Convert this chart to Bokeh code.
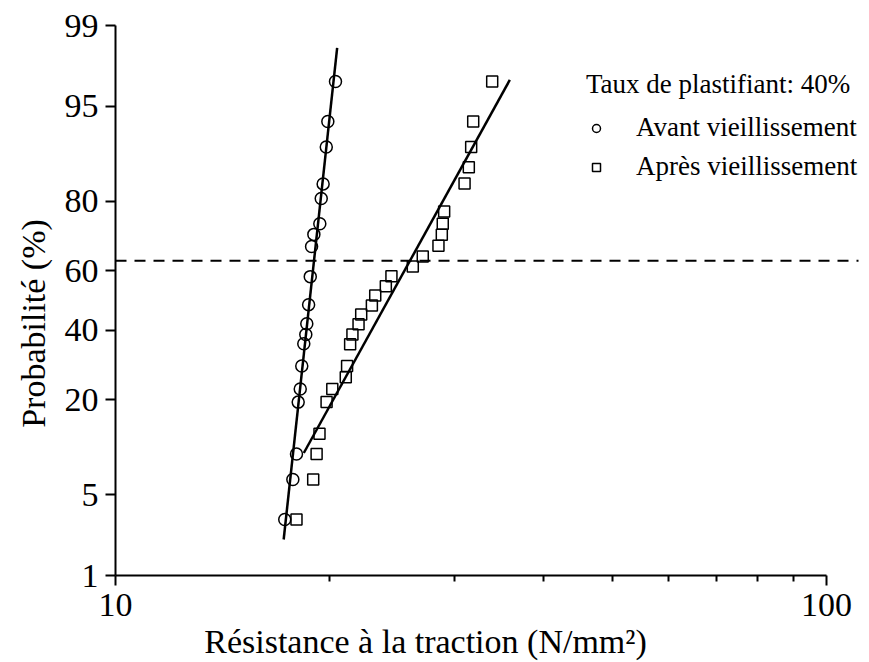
from statistics import NormalDist
from bokeh.plotting import figure
from bokeh.models import (Range1d, FixedTicker, Label, Legend, LegendItem,
                          NumeralTickFormatter, ColumnDataSource)
from bokeh.embed import file_html
from bokeh.resources import INLINE

# ---- data ----
avant_resistance = [20.39, 19.89, 19.79, 19.59, 19.47, 19.38, 19.01, 18.87, 18.79, 18.69,
                    18.58, 18.52, 18.40, 18.28, 18.19, 18.07, 17.97, 17.76, 17.30]
avant_prob = [96.8, 93.5, 90.3, 83.8, 80.6, 74.2, 71.2, 67.6, 58.0, 48.6,
              42.2, 38.7, 35.7, 29.0, 22.7, 19.5, 9.7, 6.5, 3.2]

apres_resistance = [33.87, 31.85, 31.64, 31.40, 30.97, 28.99, 28.86, 28.77, 28.46, 27.05,
                    26.19, 24.44, 24.00, 23.19, 22.94, 22.16, 21.97, 21.54, 21.38, 21.17,
                    21.08, 20.18, 19.81, 19.36, 19.18, 18.97, 17.97]
apres_prob = [96.8, 93.5, 90.3, 87.0, 83.9, 77.4, 74.2, 71.1, 67.8, 64.5,
              61.3, 58.1, 54.8, 51.7, 48.3, 45.3, 42.0, 38.7, 35.6, 29.0,
              25.8, 22.7, 19.5, 13.0, 9.7, 6.5, 3.2]

avant_fit_resistance = [17.24, 20.50]
avant_fit_prob = [2.16, 98.37]
apres_fit_resistance = [18.40, 35.86]
apres_fit_prob = [9.85, 96.9]

reference_prob = 63.2
y_tick_values = [1, 5, 20, 40, 60, 80, 95, 99]
x_major_ticks = [10, 100]
x_minor_ticks = [20, 30, 40, 50, 60, 70, 80, 90]

legend_title = "Taux de plastifiant: 40%"
label_avant = "Avant vieillissement"
label_apres = "Après vieillissement"
x_title = "Résistance à la traction (N/mm²)"
y_title = "Probabilité (%)"

FONT = "Liberation Serif"

# ---- layout geometry (pixels) ----
W, H = 869, 662
X10_PX, X100_PX = 115, 826          # where 10 and 100 sit
Y99_PX, Y1_PX = 25, 575             # where 99 % and 1 % sit
DASH_END_PX = 858

nd = NormalDist()


def probit(pct):
    return nd.inv_cdf(pct / 100.0)


decade_px = X100_PX - X10_PX
y_top, y_bot = probit(y_tick_values[-1]), probit(y_tick_values[0])
k = (Y1_PX - Y99_PX) / (y_top - y_bot)


def px_to_x(px):
    return 10 ** (1 + (px - X10_PX) / decade_px)


def px_to_y(py):
    return y_top - (py - Y99_PX) / k


p = figure(width=W, height=H, x_axis_type="log",
           x_range=Range1d(px_to_x(0), px_to_x(W)),
           y_range=Range1d(px_to_y(H), px_to_y(0)),
           output_backend="svg", toolbar_location=None,
           min_border=0, min_border_left=0, min_border_right=0,
           min_border_top=0, min_border_bottom=0)
p.outline_line_color = None
p.grid.visible = False
p.background_fill_color = "white"
p.border_fill_color = "white"

# axes drawn at fixed data locations
for ax in (p.xaxis[0], p.yaxis[0]):
    ax.axis_line_width = 2
    ax.axis_line_color = "black"
    ax.major_tick_line_width = 2
    ax.major_tick_line_color = "black"
    ax.minor_tick_line_width = 2
    ax.minor_tick_line_color = "black"
    ax.major_tick_in = 0
    ax.major_tick_out = 10
    ax.minor_tick_in = 0
    ax.minor_tick_out = 6
    ax.major_label_text_font = FONT
    ax.major_label_text_font_size = "34px"
    ax.major_label_text_color = "black"

p.xaxis.ticker = FixedTicker(ticks=x_major_ticks, minor_ticks=x_minor_ticks)
p.xaxis.formatter = NumeralTickFormatter(format="0")
p.xaxis.bounds = (x_major_ticks[0], x_major_ticks[-1])
p.xaxis.fixed_location = y_bot
p.xaxis.major_label_standoff = 8

y_tick_pos = [probit(v) for v in y_tick_values]
p.yaxis.ticker = FixedTicker(ticks=y_tick_pos, minor_ticks=[])
p.yaxis.major_label_overrides = {pos: str(v) for pos, v in zip(y_tick_pos, y_tick_values)}
p.yaxis.bounds = (y_bot, y_top)
p.yaxis.fixed_location = x_major_ticks[0]
p.yaxis.major_label_standoff = 7

# reference dashed line (63.2 %)
ref_y = probit(reference_prob)
p.line([x_major_ticks[0], px_to_x(DASH_END_PX)], [ref_y, ref_y],
       line_color="black", line_width=2, line_dash="11 8")

# fitted lines
p.line(avant_fit_resistance, [probit(v) for v in avant_fit_prob],
       line_color="black", line_width=2.5)
p.line(apres_fit_resistance, [probit(v) for v in apres_fit_prob],
       line_color="black", line_width=2.5)

src_avant = ColumnDataSource(dict(x=avant_resistance, y=[probit(v) for v in avant_prob]))
src_apres = ColumnDataSource(dict(x=apres_resistance, y=[probit(v) for v in apres_prob]))

r_avant = p.scatter("x", "y", source=src_avant, marker="circle", size=12,
                    fill_color=None, line_color="black", line_width=1.5)
r_apres = p.scatter("x", "y", source=src_apres, marker="square", size=11,
                    fill_color=None, line_color="black", line_width=1.5)

legend = Legend(items=[LegendItem(label=label_avant, renderers=[r_avant]),
                       LegendItem(label=label_apres, renderers=[r_apres])],
                title=legend_title, location=(586, 480))
legend.border_line_color = None
legend.background_fill_alpha = 0
legend.title_text_font = FONT
legend.title_text_font_size = "27px"
legend.title_text_font_style = "normal"
legend.title_text_color = "black"
legend.label_text_font = FONT
legend.label_text_font_size = "27px"
legend.label_text_color = "black"
legend.glyph_width = 20
legend.glyph_height = 20
legend.label_standoff = 30
legend.spacing = 8
legend.padding = 0
legend.margin = 0
legend.title_standoff = 12
p.add_layout(legend)

# axis titles
p.add_layout(Label(x=px_to_x(425), y=px_to_y(641), text=x_title, text_font=FONT,
                   text_font_size="34px", text_align="center",
                   text_baseline="middle", text_color="black"))
p.add_layout(Label(x=px_to_x(33), y=px_to_y(323), text=y_title, angle=1.5707963,
                   text_font=FONT, text_font_size="34px", text_align="center",
                   text_baseline="middle", text_color="black"))

open("out.html", "w").write(file_html(p, INLINE))
